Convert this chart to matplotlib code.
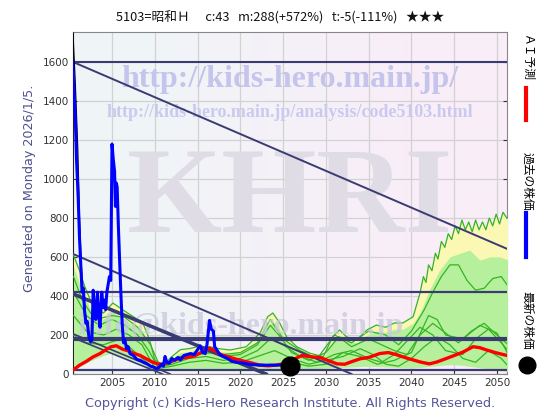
import matplotlib

matplotlib.use("Agg")
import matplotlib.pyplot as plt
import numpy as np
from matplotlib.lines import Line2D

# ---- data ----
blue_years = [2000.40, 2000.55, 2000.7, 2000.85, 2001.05, 2001.2, 2001.35, 2001.5, 2001.65, 2001.8,
              2001.95, 2002.1, 2002.3, 2002.5, 2002.65, 2002.8, 2002.95, 2003.1, 2003.3, 2003.45,
              2003.6, 2003.8, 2003.95, 2004.1, 2004.25, 2004.4, 2004.55, 2004.7, 2004.85, 2005.0,
              2005.15, 2005.3, 2005.4, 2005.5, 2005.6, 2005.75, 2005.9, 2006.05, 2006.2, 2006.35,
              2006.5, 2006.7, 2006.9, 2007.1, 2007.5, 2007.9, 2008.3, 2008.7, 2009.1, 2009.5,
              2009.9, 2010.2, 2010.5, 2010.8, 2011.0, 2011.2, 2011.4, 2011.7, 2012.0, 2012.3,
              2012.7, 2013.0, 2013.4, 2013.8, 2014.2, 2014.6, 2015.0, 2015.3, 2015.6, 2015.9,
              2016.1, 2016.4, 2016.6, 2016.85, 2017.0, 2017.3, 2017.6, 2018.0, 2018.5, 2019.0,
              2019.5, 2020.0, 2020.5, 2021.0, 2021.5, 2022.0, 2022.5, 2023.0, 2023.5, 2024.0,
              2024.5, 2025.0]
blue_vals = [1600, 1450, 1330, 1100, 900, 700, 560, 420, 440, 320,
             260, 270, 190, 165, 180, 430, 330, 280, 420, 300,
             240, 420, 340, 380, 330, 420, 460, 500, 480, 1180,
             1100, 1040, 860, 980, 960, 750, 570, 400, 250, 160,
             175, 130, 140, 105, 95, 75, 70, 60, 52, 40,
             35, 28, 35, 50, 40, 90, 60, 55, 80, 70,
             85, 72, 95, 100, 105, 100, 125, 145, 110, 105,
             150, 275, 230, 220, 140, 120, 100, 90, 80, 65,
             60, 58, 55, 50, 48, 46, 46, 45, 46, 45,
             46, 46]

black_years = [2000.40, 2000.7, 2001.0, 2001.2, 2001.4, 2001.6, 2001.9, 2002.2, 2002.5]
black_vals = [1780, 1500, 1150, 800, 560, 430, 300, 230, 170]

red_years = [2000.5, 2001.2, 2002.0, 2002.8, 2003.6, 2004.3, 2004.9, 2005.5, 2006.2, 2006.8,
             2007.6, 2008.3, 2009.0, 2009.7, 2010.3, 2011.0, 2011.8, 2012.9, 2013.8, 2014.6,
             2015.5, 2016.4, 2017.1, 2017.7, 2018.8, 2020.0, 2021.2, 2022.3, 2023.3, 2024.2,
             2025.0, 2026.0, 2027.2, 2028.3, 2029.3, 2030.2, 2031.3, 2032.2, 2032.8, 2034.0,
             2035.0, 2036.3, 2037.3, 2038.2, 2039.2, 2040.2, 2041.0, 2042.1, 2043.0, 2044.1,
             2045.0, 2046.0, 2047.2, 2048.0, 2048.8, 2049.8, 2050.7, 2051.2]
red_vals = [22, 45, 65, 88, 105, 125, 140, 145, 128, 120,
            105, 95, 78, 62, 52, 50, 62, 80, 85, 92,
            112, 132, 118, 100, 85, 70, 58, 45, 42, 46,
            52, 70, 95, 88, 85, 70, 52, 50, 60, 78,
            85, 105, 110, 100, 85, 72, 62, 52, 62, 80,
            95, 112, 140, 135, 123, 110, 100, 95]

latest_year = 2025.8
latest_val = 41

outer_years = [2000.5, 2001.3, 2001.8, 2002.8, 2004.0, 2005.1, 2006.3, 2007.5, 2008.6, 2009.4,
               2010.0, 2011.0, 2012.0, 2013.0, 2014.0, 2015.0, 2016.4, 2017.5, 2018.8, 2020.7,
               2022.3, 2023.2, 2023.8, 2024.6, 2025.4, 2026.6, 2028.1, 2029.7, 2030.8, 2031.6,
               2032.4, 2033.6, 2034.8, 2035.9, 2037.0, 2038.0, 2039.0, 2040.2, 2041.0, 2041.4,
               2041.7, 2042.0, 2042.4, 2042.8, 2043.1, 2043.5, 2043.9, 2044.3, 2044.7, 2045.1,
               2045.5, 2045.9, 2046.3, 2046.7, 2047.1, 2047.5, 2047.9, 2048.3, 2048.7, 2049.1,
               2049.5, 2049.9, 2050.3, 2050.7, 2051.3]
outer_vals = [610, 520, 450, 345, 313, 364, 328, 294, 262, 174,
              72, 45, 90, 125, 130, 140, 140, 130, 123, 140,
              210, 294, 313, 262, 191, 140, 107, 89, 191, 226,
              191, 174, 226, 251, 240, 262, 262, 294, 415, 500,
              470, 560, 530, 620, 590, 680, 650, 720, 690, 760,
              720, 790, 740, 780, 730, 790, 740, 780, 740, 800,
              760, 820, 770, 830, 790]

inner_years = [2000.5, 2001.5, 2002.5, 2004.0, 2005.0, 2006.0, 2007.5, 2008.6, 2009.4, 2010.0,
               2011.0, 2012.0, 2013.0, 2014.0, 2015.0, 2016.4, 2017.5, 2018.8, 2020.7, 2022.3,
               2023.2, 2023.8, 2024.6, 2025.4, 2026.6, 2028.1, 2029.7, 2030.8, 2031.6, 2032.4,
               2033.6, 2034.8, 2035.9, 2037.0, 2038.0, 2039.0, 2040.2, 2041.0, 2042.1, 2043.3,
               2044.5, 2045.7, 2046.8, 2048.0, 2049.2, 2050.3, 2051.3]
inner_vals = [550, 430, 330, 280, 320, 290, 250, 220, 150, 60,
              40, 80, 110, 115, 125, 125, 115, 110, 120, 180,
              250, 270, 230, 170, 125, 95, 80, 170, 200, 175,
              160, 200, 220, 215, 230, 230, 260, 313, 431, 533,
              601, 620, 636, 585, 601, 601, 585]

low_years = [2000.5, 2003.0, 2005.0, 2007.0, 2009.0, 2010.0, 2015.0, 2020.0, 2025.0, 2030.0,
             2035.0, 2040.0, 2045.0, 2050.0, 2051.3]
low_vals = [20, 80, 110, 80, 40, 20, 20, 20, 20, 30, 40, 30, 50, 20, 15]

g2_years = [2000.5, 2002, 2003.5, 2005, 2006.5, 2008, 2009.3, 2010.3, 2011.5, 2013, 2015, 2016.5,
            2018, 2020, 2022, 2023.5, 2024.5, 2026, 2028, 2030, 2031.5, 2033, 2035, 2036.5,
            2038, 2039.5, 2041, 2042.5, 2044, 2045.5, 2047, 2048.5, 2050, 2051.3]
g2_vals = [420, 300, 250, 280, 250, 200, 120, 40, 60, 90, 100, 110,
           90, 100, 150, 250, 200, 110, 70, 110, 190, 140, 180, 150,
           120, 100, 200, 260, 210, 160, 220, 260, 200, 150]

g3_years = [2000.5, 2002, 2004, 2005.5, 2007, 2008.5, 2010, 2012, 2014, 2016, 2018, 2020,
            2022, 2023.5, 2025, 2027, 2029, 2031, 2033, 2035, 2036.5, 2038, 2039.5, 2041,
            2042.5, 2044, 2046, 2047.5, 2049, 2050.5, 2051.3]
g3_vals = [300, 220, 200, 230, 200, 150, 30, 50, 80, 90, 70, 80,
           120, 180, 150, 90, 60, 100, 120, 80, 60, 100, 170, 240,
           200, 120, 100, 180, 230, 160, 120]

g4_years = [2000.5, 2002, 2004, 2006, 2008, 2010, 2012, 2014, 2016, 2018, 2020, 2022,
            2024, 2026, 2028, 2030, 2032, 2034, 2035.5, 2037, 2038.5, 2040, 2041.5, 2043,
            2044.5, 2046, 2047.5, 2049, 2050.5, 2051.3]
g4_vals = [200, 160, 150, 180, 100, 25, 40, 60, 70, 55, 60, 90,
           120, 80, 50, 70, 90, 130, 100, 50, 40, 80, 140, 190,
           150, 80, 60, 120, 80, 40]

g5_years = [2000.5, 2001.5, 2003, 2005, 2006.5, 2008, 2009.5, 2010.5, 2012, 2014, 2016, 2018,
            2020, 2022, 2023.5, 2025, 2027, 2029, 2031, 2033, 2035, 2037, 2038.5, 2040,
            2041.5, 2042.5, 2043.5, 2044.5, 2045.5, 2046.5, 2047.5, 2048.5, 2049.5, 2050.5, 2051.3]
g5_vals = [500, 380, 280, 300, 290, 240, 150, 50, 70, 100, 110, 100,
           110, 160, 280, 180, 120, 80, 200, 160, 220, 200, 150, 220,
           330, 420, 500, 560, 560, 480, 430, 440, 490, 500, 450]

g6_years = [2026, 2028, 2030, 2032, 2034, 2036, 2038, 2040, 2042, 2043, 2044, 2046, 2048, 2050, 2051.3]
g6_vals = [60, 40, 50, 110, 90, 50, 70, 110, 300, 280, 200, 180, 250, 210, 100]

# support / resistance lines
hlines = [(1600, 1.5), (420, 1.6), (178, 3.0), (20, 1.6)]
diagonals = [(2000.5, 1600, 2051.3, 640, 1.4),
             (2000.5, 615, 2033.0, 0, 1.4),
             (2000.5, 410, 2023.0, 0, 2.6),
             (2000.5, 205, 2011.8, 0, 1.2),
             (2000.5, 185, 2010.9, 0, 1.2)]

x_ticks = [2005, 2010, 2015, 2020, 2025, 2030, 2035, 2040, 2045, 2050]
y_ticks = [0, 200, 400, 600, 800, 1000, 1200, 1400, 1600]

NAVY = "#3b3b73"
GREEN = "#33b522"
W, H = 560, 420


def fx(px):
    return px / W


def fy(py):
    return 1 - py / H


fig = plt.figure(figsize=(5.6, 4.2), dpi=100)
ax = fig.add_axes([fx(73), fy(374), fx(507) - fx(73), (374 - 32) / H])
xlim = (2000.44, 2051.17)
ylim = (0, 1755)

# background: cyan-ish on the left fading to pink on the right
left_c = np.array([0.94, 0.96, 0.97])
right_c = np.array([0.98, 0.93, 0.97])
bg = np.array([[left_c, (left_c + right_c) / 2, right_c]])
ax.imshow(bg, extent=[xlim[0], xlim[1], ylim[0], ylim[1]], aspect="auto", interpolation="bilinear", zorder=0)

ax.set_xlim(*xlim)
ax.set_ylim(*ylim)
ax.set_xticks(x_ticks)
ax.set_yticks(y_ticks)
ax.grid(color="#d2d2d2", linewidth=0.9, zorder=1)
ax.tick_params(labelsize=7.5, length=3, direction="in", colors="#333333", pad=3)
ax.tick_params(axis="y", right=True)
for s in ax.spines.values():
    s.set_color("#888888")
    s.set_linewidth(0.8)
ax.spines["left"].set_color("#222222")

# watermarks
ax.text(0.5, 0.86, "http://kids-hero.main.jp/", transform=ax.transAxes, ha="center", va="center",
        fontsize=23, fontweight="bold", family="Liberation Serif", color="#c4c4ec", zorder=2)
ax.text(0.5, 0.765, "http://kids-hero.main.jp/analysis/code5103.html", transform=ax.transAxes,
        ha="center", va="center", fontsize=13, fontweight="bold", family="Liberation Serif",
        color="#cacaf0", zorder=2)
ax.text(0.5, 0.5, "KHRI", transform=ax.transAxes, ha="center", va="center", fontsize=88,
        fontweight="bold", family="Liberation Serif", color="#e0dce6", zorder=2)

# forecast fan
ax.fill_between(outer_years, np.interp(outer_years, low_years, low_vals), outer_vals,
                color="#fbf8b4", linewidth=0, zorder=3)
ax.fill_between(inner_years, np.interp(inner_years, low_years, low_vals), inner_vals,
                color="#b6f09c", linewidth=0, zorder=3)
ax.plot(outer_years, outer_vals, color=GREEN, lw=0.9, zorder=4)
for yrs, vals in [(g2_years, g2_vals), (g3_years, g3_vals), (g4_years, g4_vals),
                  (g5_years, g5_vals), (g6_years, g6_vals)]:
    ax.plot(yrs, vals, color=GREEN, lw=0.9, zorder=4)

ax.text(0.01, 0.14, "info@kids-hero.main.jp", transform=ax.transAxes, ha="left", va="center",
        fontsize=23, fontweight="bold", family="Liberation Serif", color="#c8c8dc", alpha=0.75, zorder=5)

# lines
for val, lw in hlines:
    ax.axhline(val, color=NAVY, lw=lw, zorder=6)
for x0, y0, x1, y1, lw in diagonals:
    ax.plot([x0, x1], [y0, y1], color=NAVY, lw=lw, zorder=6)

ax.plot(red_years, red_vals, color="#ff0000", lw=2.4, zorder=7)
ax.plot(black_years, black_vals, color="black", lw=0.9, zorder=8)
ax.plot(blue_years, blue_vals, color="#0000ff", lw=2.2, zorder=9)
ax.plot([latest_year], [latest_val], "o", color="black", ms=13.5, zorder=10, clip_on=False)

# texts around the plot
jp = ["Noto Sans CJK JP", "DejaVu Sans"]
fig.text(fx(280), fy(17), "5103=昭和Ｈ\u3000 c:43   m:288(+572%)   t:-5(-111%)   ★★★", ha="center",
         va="center", fontsize=9.2, family=jp, color="#111111")
fig.text(fx(30), fy(188), "Generated on Monday 2026/1/5.", rotation=90, ha="center", va="center",
         fontsize=9.2, color="#505090")
fig.text(fx(290), fy(403), "Copyright (c) Kids-Hero Research Institute. All Rights Reserved.",
         ha="center", va="center", fontsize=9.3, color="#55559a")

# right-side legend
fig.text(fx(527), fy(58), "ＡＩ予測", rotation=270, ha="center", va="center", fontsize=8.5, family=jp)
fig.text(fx(527), fy(181), "過去の株価", rotation=270, ha="center", va="center", fontsize=8.5, family=jp)
fig.text(fx(527), fy(320), "最新の株価", rotation=270, ha="center", va="center", fontsize=8.5, family=jp)
fig.add_artist(Line2D([fx(526), fx(526)], [fy(88), fy(120)], color="#ff0000", lw=3))
fig.add_artist(Line2D([fx(526), fx(526)], [fy(213), fy(257)], color="#0000ff", lw=3))
fig.add_artist(Line2D([fx(527)], [fy(365)], marker="o", color="black", ms=12, lw=0))

fig.savefig("out.png", dpi=100)
